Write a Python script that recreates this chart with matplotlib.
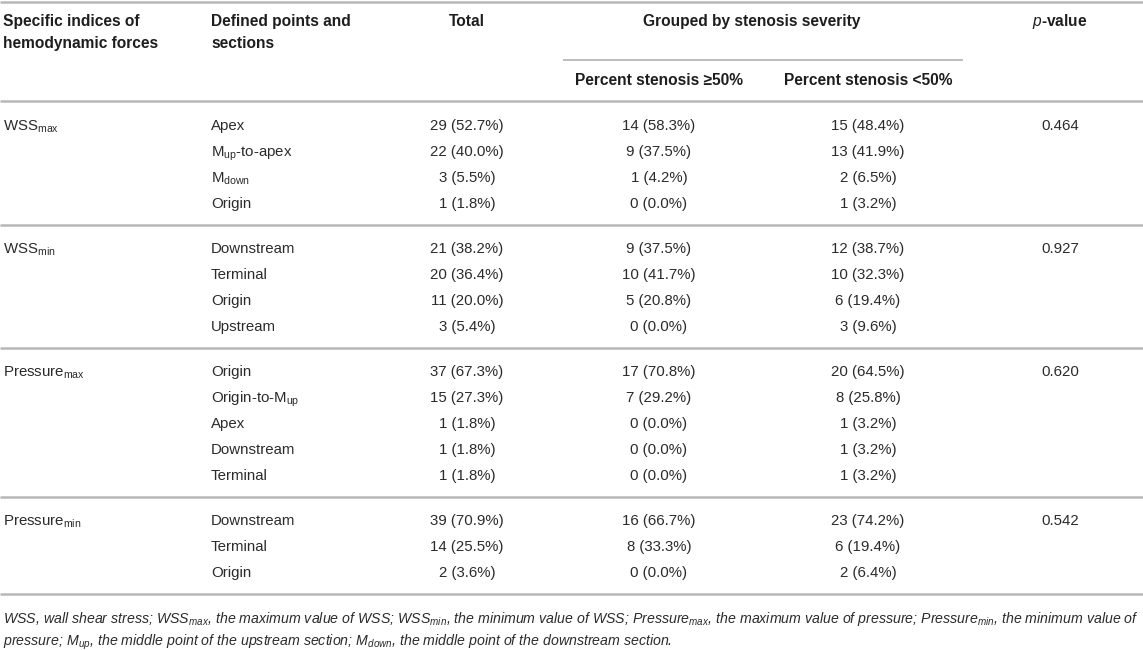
import matplotlib
matplotlib.use("Agg")
import matplotlib.pyplot as plt

plt.rcParams['font.family'] = ['Liberation Sans', 'DejaVu Sans']
plt.rcParams['mathtext.fontset'] = 'custom'
plt.rcParams['mathtext.rm'] = 'Liberation Sans'
plt.rcParams['mathtext.it'] = 'Liberation Sans:italic'
plt.rcParams['mathtext.bf'] = 'Liberation Sans:bold'

# ---- data ----
indices = [r"WSS$_{\mathrm{max}}$", r"WSS$_{\mathrm{min}}$",
           r"Pressure$_{\mathrm{max}}$", r"Pressure$_{\mathrm{min}}$"]
points = [
    ["Apex", r"M$_{\mathrm{up}}$-to-apex", r"M$_{\mathrm{down}}$", "Origin"],
    ["Downstream", "Terminal", "Origin", "Upstream"],
    ["Origin", r"Origin-to-M$_{\mathrm{up}}$", "Apex", "Downstream", "Terminal"],
    ["Downstream", "Terminal", "Origin"],
]
total = [
    ["29 (52.7%)", "22 (40.0%)", "3 (5.5%)", "1 (1.8%)"],
    ["21 (38.2%)", "20 (36.4%)", "11 (20.0%)", "3 (5.4%)"],
    ["37 (67.3%)", "15 (27.3%)", "1 (1.8%)", "1 (1.8%)", "1 (1.8%)"],
    ["39 (70.9%)", "14 (25.5%)", "2 (3.6%)"],
]
ge50 = [
    ["14 (58.3%)", "9 (37.5%)", "1 (4.2%)", "0 (0.0%)"],
    ["9 (37.5%)", "10 (41.7%)", "5 (20.8%)", "0 (0.0%)"],
    ["17 (70.8%)", "7 (29.2%)", "0 (0.0%)", "0 (0.0%)", "0 (0.0%)"],
    ["16 (66.7%)", "8 (33.3%)", "0 (0.0%)"],
]
lt50 = [
    ["15 (48.4%)", "13 (41.9%)", "2 (6.5%)", "1 (3.2%)"],
    ["12 (38.7%)", "10 (32.3%)", "6 (19.4%)", "3 (9.6%)"],
    ["20 (64.5%)", "8 (25.8%)", "1 (3.2%)", "1 (3.2%)", "1 (3.2%)"],
    ["23 (74.2%)", "6 (19.4%)", "2 (6.4%)"],
]
pvalues = ["0.464", "0.927", "0.620", "0.542"]

header1 = ["Specific indices of", "hemodynamic forces"]
header2 = ["Defined points and", "sections"]
header3 = "Total"
header_group = "Grouped by stenosis severity"
header_ge = "Percent stenosis ≥50%"
header_lt = "Percent stenosis <50%"
header_p = r"$\mathit{p}$-value"

footnote1 = (r"WSS, wall shear stress; WSS$_{\mathit{max}}$, the maximum value of WSS; "
             r"WSS$_{\mathit{min}}$, the minimum value of WSS; Pressure$_{\mathit{max}}$, "
             r"the maximum value of pressure; Pressure$_{\mathit{min}}$, the minimum value of")
footnote2 = (r"pressure; M$_{\mathit{up}}$, the middle point of the upstream section; "
             r"M$_{\mathit{down}}$, the middle point of the downstream section.")

# ---- layout ----
W, H = 1143, 650
fig = plt.figure(figsize=(W / 100, H / 100), dpi=100)
ax = fig.add_axes([0, 0, 1, 1])
ax.set_xlim(0, W)
ax.set_ylim(H, 0)
ax.axis("off")

x_col1, x_col2 = 3, 211
x_tot, x_ge, x_lt, x_p = 467, 659, 868, 1060
fs = 10.8
hfs = 11.2
tc = "#2b2b2b"
hc = "#1e1e1e"
lc = "#b8b8b8"
bl = 5.2  # center -> baseline offset (pixels)

def hline(y, x0=0, x1=W, lw=1.8, c=lc):
    ax.plot([x0, x1], [y, y], color=c, lw=lw, solid_capstyle="butt")

def txt(x, y, s, size, ha="left", **kw):
    ax.text(x, y + bl, s, fontsize=size, ha=ha, va="baseline", **kw)

# header
hline(1.5)
for k, t in enumerate(header1):
    txt(x_col1, 21 + 22 * k, t, hfs, fontweight="bold", color=hc)
for k, t in enumerate(header2):
    txt(x_col2, 21 + 22 * k, t, hfs, fontweight="bold", color=hc)
txt(x_tot, 21, header3, hfs, ha="center", fontweight="bold", color=hc)
txt(752, 21, header_group, hfs, ha="center", fontweight="bold", color=hc)
txt(x_p, 21, header_p, hfs, ha="center", fontweight="bold", color=hc)
hline(59.5, 563, 963, lw=1.3)
txt(x_ge, 80, header_ge, hfs, ha="center", fontweight="bold", color=hc)
txt(x_lt, 80, header_lt, hfs, ha="center", fontweight="bold", color=hc)
hline(100.5)

# body
y = 125
step, gap = 26, 45
for g in range(len(indices)):
    n = len(points[g])
    txt(x_col1, y, indices[g], fs, color=tc)
    txt(x_p, y, pvalues[g], fs, ha="center", color=tc)
    for i in range(n):
        yy = y + i * step
        txt(x_col2, yy, points[g][i], fs, color=tc)
        txt(x_tot, yy, total[g][i], fs, ha="center", color=tc)
        txt(x_ge, yy, ge50[g][i], fs, ha="center", color=tc)
        txt(x_lt, yy, lt50[g][i], fs, ha="center", color=tc)
    last = y + (n - 1) * step
    hline(last + 22)
    y = last + gap

# footnote
txt(x_col1, 618, footnote1, 10.2, color=tc, style="italic")
txt(x_col1, 640, footnote2, 10.2, color=tc, style="italic")

fig.savefig("out.png", dpi=100, facecolor="white")
